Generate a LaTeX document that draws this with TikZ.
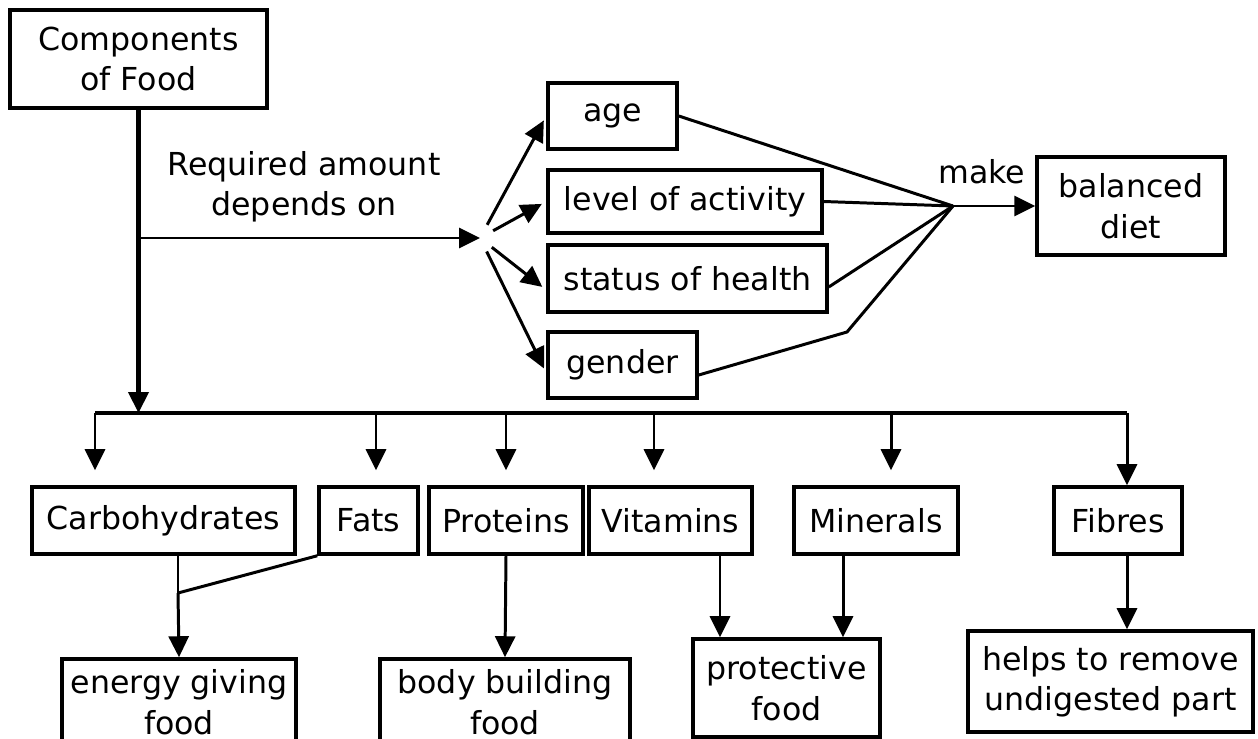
\documentclass[tikz,border=0pt]{standalone}
\usepackage{fontspec}
\setmainfont{DejaVu Sans}
\usetikzlibrary{arrows.meta,calc}
\tikzset{
  box/.style={draw,line width=2pt,align=center,inner sep=0pt,font=\fontsize{18}{23}\selectfont},
  lbl/.style={align=center,font=\fontsize{18}{23}\selectfont},
  ln/.style={line width=1.7pt},
  arr/.style={ln,-{Triangle[length=0.42cm,width=0.4cm]}},
}
\begin{document}
\begin{tikzpicture}
  \useasboundingbox (0,0) rectangle (25.16,-14.78);
  % top part
  \node[box,minimum width=5.14cm,minimum height=1.96cm] at (2.77,-1.18) (comp) {Components\\of Food};
  \node[box,minimum width=2.58cm,minimum height=1.32cm] at (12.25,-2.32) (age) {age};
  \node[box,minimum width=5.48cm,minimum height=1.26cm] at (13.70,-4.03) (act) {level of activity};
  \node[box,minimum width=5.58cm,minimum height=1.34cm] at (13.75,-5.57) (hlth) {status of health};
  \node[box,minimum width=2.98cm,minimum height=1.32cm] at (12.45,-7.30) (gen) {gender};
  \node[box,minimum width=3.76cm,minimum height=1.96cm] at (22.62,-4.12) (diet) {balanced\\diet};
  \node[lbl] at (6.08,-3.74) (req) {Required amount\\depends on};
  \node[lbl] at (19.64,-3.44) (make) {make};
  \coordinate (hub) at (9.60,-4.76);
  \coordinate (M) at (19.06,-4.12);
  \coordinate (G) at (16.94,-6.64);
  % components
  \node[box,minimum width=5.26cm,minimum height=1.34cm] at (3.27,-10.41) (carb) {Carbohydrates};
  \node[box,minimum width=1.98cm,minimum height=1.34cm] at (7.37,-10.41) (fat) {Fats};
  \node[box,minimum width=3.08cm,minimum height=1.34cm] at (10.12,-10.41) (prot) {Proteins};
  \node[box,minimum width=3.26cm,minimum height=1.34cm] at (13.41,-10.41) (vit) {Vitamins};
  \node[box,minimum width=3.28cm,minimum height=1.34cm] at (17.52,-10.41) (min) {Minerals};
  \node[box,minimum width=2.56cm,minimum height=1.34cm] at (22.36,-10.41) (fib) {Fibres};
  % what they do
  \node[box,minimum width=4.68cm,minimum height=1.72cm] at (3.58,-14.04) (egy) {energy giving\\food};
  \node[box,minimum width=5.00cm,minimum height=1.72cm] at (10.10,-14.04) (bld) {body building\\food};
  \node[box,minimum width=3.74cm,minimum height=1.96cm] at (15.73,-13.76) (prt) {protective\\food};
  \node[box,minimum width=5.70cm,minimum height=2.02cm] at (22.21,-13.63) (rem) {helps to remove\\undigested part};
  % bus and branch points
  \coordinate (b1) at (1.90,-8.26);
  \coordinate (b6) at (22.54,-8.26);
  \coordinate (J) at (3.56,-11.86);
  \coordinate (v) at (14.40,-11.08);
  \coordinate (m) at (16.86,-11.08);
  \coordinate (f) at (22.54,-11.06);
  % arrows
  \draw[arr,line width=2.4pt] (comp.south) -- (comp.south |- b1);
  \draw[arr] (comp.south |- hub) -- (hub);
  \draw[arr,shorten <=0.3cm,shorten >=0.1cm] (hub) -- (age.west);
  \draw[arr,shorten <=0.3cm,shorten >=0.1cm] (hub) -- (act.west);
  \draw[arr,shorten <=0.3cm,shorten >=0.1cm] (hub) -- ($(hlth.west)+(0,-0.23)$);
  \draw[arr,shorten <=0.3cm,shorten >=0.1cm] (hub) -- ($(gen.west)+(0,-0.16)$);
  \draw[ln] (age.east) -- (M); \draw[ln] (act.east) -- (M);
  \draw[ln] ($(hlth.east)+(0,-0.17)$) -- (M);
  \draw[ln] ($(gen.east)+(0,-0.2)$) -- (G) -- (M);
  \draw[arr] (M) -- (diet.west);
  \draw[ln,line width=2pt] (b1) -- (b6);
  \draw[arr,shorten >=0.3cm] (b1) -- (b1 |- carb.north);
  \draw[arr,shorten >=0.3cm] (b1 -| 7.52,0) -- (7.52,0 |- fat.north);
  \draw[arr,shorten >=0.3cm] (b1 -| prot.north) -- (prot.north);
  \draw[arr,shorten >=0.3cm] (b1 -| 13.08,0) -- (13.08,0 |- vit.north);
  \draw[arr,shorten >=0.3cm] (b1 -| 17.82,0) -- (17.82,0 |- min.north);
  \draw[arr] (b6) -- (b6 |- fib.north);
  \draw[ln] (J |- carb.south) -- (J); \draw[ln] (fat.south west) -- (J);
  \draw[arr] (J) -- (egy.north);
  \draw[arr] (prot.south) -- (bld.north);
  \draw[arr] (v) -- (v |- prt.north);
  \draw[arr] (m) -- (m |- prt.north);
  \draw[arr] (f) -- (f |- rem.north);
\end{tikzpicture}
\end{document}
